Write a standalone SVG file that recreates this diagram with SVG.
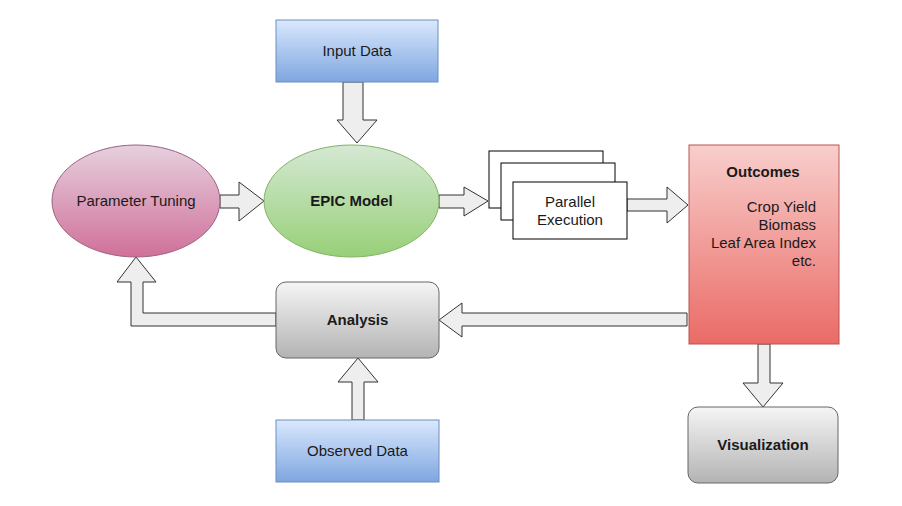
<svg xmlns="http://www.w3.org/2000/svg" width="902" height="506" viewBox="0 0 902 506">
<defs>
<linearGradient id="gBlue" x1="0" y1="0" x2="0" y2="1"><stop offset="0" stop-color="#dae8fc"/><stop offset="1" stop-color="#7ea6e0"/></linearGradient>
<linearGradient id="gPink" x1="0" y1="0" x2="0" y2="1"><stop offset="0" stop-color="#e6d0de"/><stop offset="1" stop-color="#d07099"/></linearGradient>
<linearGradient id="gGreen" x1="0" y1="0" x2="0" y2="1"><stop offset="0" stop-color="#d5e8d4"/><stop offset="1" stop-color="#97d077"/></linearGradient>
<linearGradient id="gRed" x1="0" y1="0" x2="0" y2="1"><stop offset="0" stop-color="#f8cecc"/><stop offset="1" stop-color="#ea6b66"/></linearGradient>
<linearGradient id="gGray" x1="0" y1="0" x2="0" y2="1"><stop offset="0" stop-color="#f5f5f5"/><stop offset="1" stop-color="#b3b3b3"/></linearGradient>
</defs>
<style>
text{font-family:"Liberation Sans",Arial,sans-serif;font-size:15px;fill:#1a1a1a}
.c{text-anchor:middle;dominant-baseline:central}
.b{font-weight:bold}
.r{text-anchor:end}
.arrow{fill:#eeeeee;stroke:#333333;stroke-width:1;stroke-linejoin:miter}
.blue{fill:url(#gBlue);stroke:#6c8ebf}
.gray{fill:url(#gGray);stroke:#666666}
</style>
<rect width="902" height="506" fill="#ffffff"/>
<g id="connectors">
<polygon class="arrow" points="343,82 363,82 363,120 377,120 357,143 337,120 343,120"/>
<polygon class="arrow" points="220,195 239,195 239,182 264,201 239,221 239,208 220,208"/>
<polygon class="arrow" points="439,195 464,195 464,187 488,201 464,216 464,208 439,208"/>
<polygon class="arrow" points="627,199 667,199 667,187 688,205 667,223 667,211 627,211"/>
<polygon class="arrow" points="687,313 462,313 462,303 439,320 462,337 462,326 687,326"/>
<polygon class="arrow" points="276,313 143,313 143,282 156,282 136,257 117,282 131,282 131,326 276,326"/>
<polygon class="arrow" points="352,420 352,382 338,382 358,358 378,382 364,382 364,420"/>
<polygon class="arrow" points="758,344 758,383 743,383 763,407 783,383 770,383 770,344"/>
</g>
<g id="input-data">
<rect class="blue" x="276" y="20" width="162" height="62"/>
<text class="c" x="357" y="50">Input Data</text>
</g>
<g id="parameter-tuning">
<ellipse cx="136" cy="201" rx="84" ry="56" fill="url(#gPink)" stroke="#996185"/>
<text class="c" x="136" y="200">Parameter Tuning</text>
</g>
<g id="epic-model">
<ellipse cx="351.5" cy="201" rx="87.5" ry="56" fill="url(#gGreen)" stroke="#82b366"/>
<text class="c b" x="351.5" y="200">EPIC Model</text>
</g>
<g id="parallel-execution">
<rect x="489" y="151" width="114" height="57" fill="#ffffff" stroke="#000000"/>
<rect x="501" y="163" width="114" height="57" fill="#ffffff" stroke="#000000"/>
<rect x="513" y="182" width="114" height="57" fill="#ffffff" stroke="#000000"/>
<text class="c" x="570" y="201">Parallel</text>
<text class="c" x="570" y="219">Execution</text>
</g>
<g id="outcomes">
<rect x="689" y="145" width="150" height="199" fill="url(#gRed)" stroke="#b85450"/>
<text class="c b" x="763" y="171">Outcomes</text>
<text class="r" x="816" y="212">Crop Yield</text>
<text class="r" x="816" y="230">Biomass</text>
<text class="r" x="816" y="248">Leaf Area Index</text>
<text class="r" x="816" y="266">etc.</text>
</g>
<g id="analysis">
<rect class="gray" x="276" y="282" width="163" height="76" rx="10" ry="10"/>
<text class="c b" x="357.5" y="319">Analysis</text>
</g>
<g id="observed-data">
<rect class="blue" x="276" y="420" width="163" height="62"/>
<text class="c" x="357.5" y="450">Observed Data</text>
</g>
<g id="visualization">
<rect class="gray" x="688" y="407" width="150" height="76" rx="10" ry="10"/>
<text class="c b" x="763" y="444">Visualization</text>
</g>
</svg>
